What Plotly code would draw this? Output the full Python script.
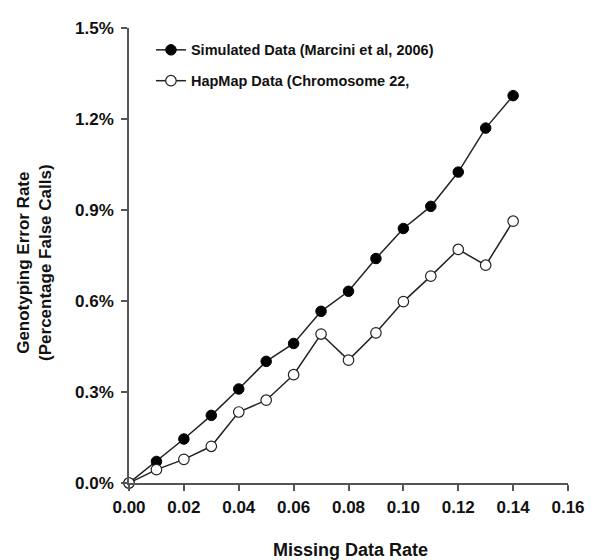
import plotly.graph_objects as go

missing_rate = [0.00, 0.01, 0.02, 0.03, 0.04, 0.05, 0.06, 0.07, 0.08, 0.09, 0.10, 0.11, 0.12, 0.13, 0.14]
simulated = [0.0, 0.071, 0.145, 0.223, 0.310, 0.401, 0.460, 0.566, 0.632, 0.740, 0.839, 0.912, 1.025, 1.170, 1.277]
hapmap = [0.0, 0.044, 0.078, 0.121, 0.234, 0.273, 0.357, 0.491, 0.405, 0.495, 0.598, 0.682, 0.770, 0.718, 0.863]
x_ticks = [0.00, 0.02, 0.04, 0.06, 0.08, 0.10, 0.12, 0.14, 0.16]
y_ticks = [0.0, 0.3, 0.6, 0.9, 1.2, 1.5]
y_tick_labels = ["0.0%", "0.3%", "0.6%", "0.9%", "1.2%", "1.5%"]

FONT = "Liberation Sans, Arial, sans-serif"

fig = go.Figure()
fig.add_trace(go.Scatter(
    x=missing_rate, y=simulated, mode="lines+markers",
    name="<b>Simulated Data (Marcini et al, 2006)</b>", legendgroup="a",
    line=dict(color="#222222", width=1.5),
    marker=dict(symbol="circle", size=10.5, color="#000000", line=dict(color="#000000", width=1)),
    cliponaxis=False,
))
fig.add_trace(go.Scatter(
    x=missing_rate, y=hapmap, mode="lines+markers",
    name="<b>HapMap Data (Chromosome 22,</b>", legendgroup="b",
    line=dict(color="#222222", width=1.5),
    marker=dict(symbol="circle", size=10.5, color="#ffffff", line=dict(color="#222222", width=1.2)),
    cliponaxis=False,
))

fig.update_layout(
    width=588, height=552,
    margin=dict(l=121, r=20, t=11, b=77),
    plot_bgcolor="white", paper_bgcolor="white",
    font=dict(family=FONT, color="#111111"),
    showlegend=True,
    legend=dict(x=0.05, y=0.987, xanchor="left", yanchor="top",
                bgcolor="rgba(0,0,0,0)", font=dict(size=14.5, family=FONT, color="#111111"),
                itemwidth=30, tracegroupgap=9),
    xaxis=dict(range=[0, 0.16], tickvals=x_ticks, ticktext=[f"<b>{v:.2f}</b>" for v in x_ticks],
               showgrid=False, zeroline=False, showline=True, linecolor="#555555", linewidth=1.5,
               ticks="outside", ticklen=6, tickcolor="#555555", tickwidth=1.5,
               ticklabelstandoff=2,
               tickfont=dict(size=17, family=FONT, color="#111111")),
    yaxis=dict(range=[0, 1.5], tickvals=y_ticks, ticktext=[f"<b>{t}</b>" for t in y_tick_labels],
               showgrid=False, zeroline=False, showline=True, linecolor="#555555", linewidth=1.5,
               ticks="outside", ticklen=6, tickcolor="#555555", tickwidth=1.5,
               ticklabelstandoff=4,
               tickfont=dict(size=17, family=FONT, color="#111111")),
    annotations=[
        dict(text="<b>Missing Data Rate</b>", xref="paper", yref="paper",
             x=0.504, y=-0.1466, xanchor="center", yanchor="middle", showarrow=False,
             font=dict(size=18, family=FONT, color="#111111")),
        dict(text="<b>Genotyping Error Rate<br>(Percentage False Calls)</b>", xref="paper", yref="paper",
             x=-0.215, y=0.485, xanchor="center", yanchor="middle", showarrow=False, textangle=-90,
             font=dict(size=17, family=FONT, color="#111111")),
    ],
)

fig.write_html("out.html")
